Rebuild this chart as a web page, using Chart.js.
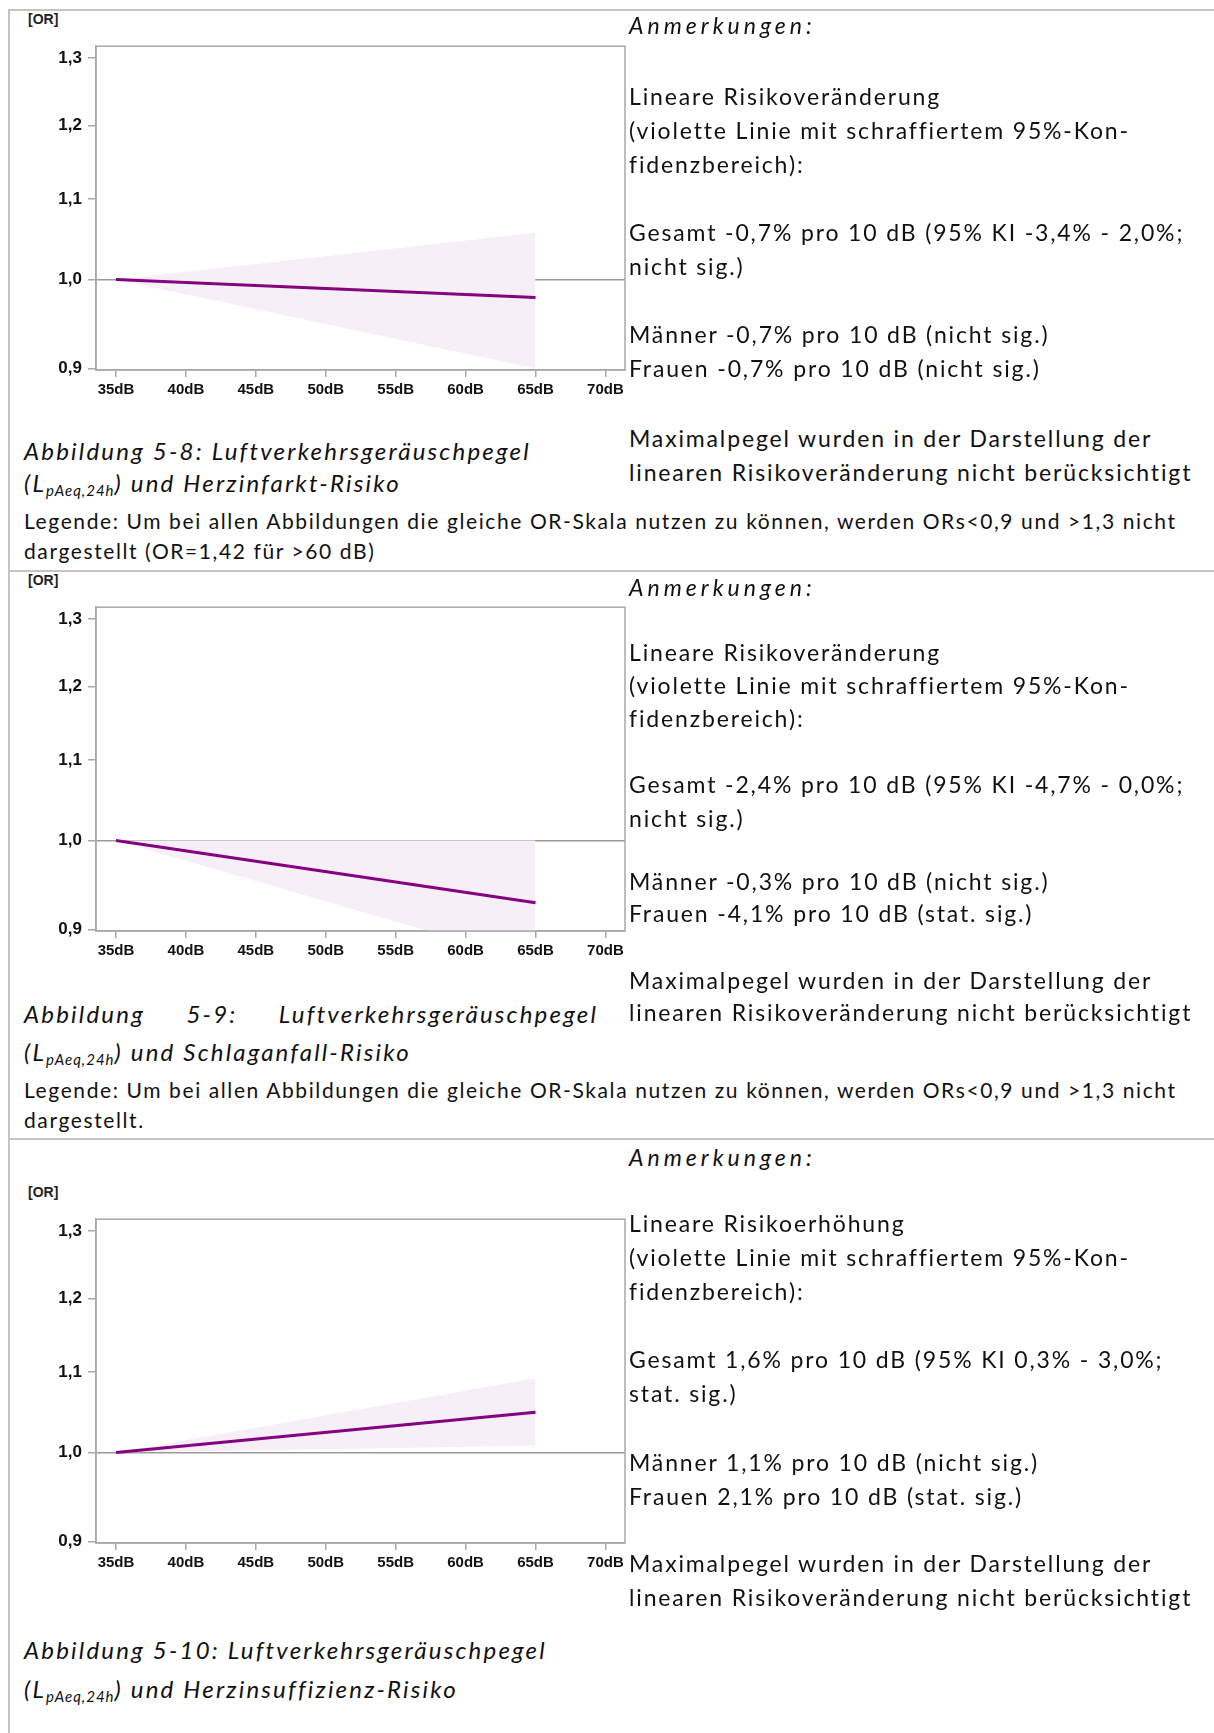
<!DOCTYPE html>
<html lang="de">
<head>
<meta charset="UTF-8">
<title>Luftverkehrsgeräuschpegel und Risiko</title>
<script src="https://cdn.jsdelivr.net/npm/chart.js@4.4.1/dist/chart.umd.min.js"></script>
<style>
    body {
        margin: 0;
        background: #fff;
        font-family: Lato, "Open Sans", sans-serif;
        color: #111;
    }
    .page {
        position: relative;
        width: 1214px;
        height: 1733px;
        overflow: hidden;
    }
    .vline {
        position: absolute;
        left: 8px;
        top: 10px;
        width: 2px;
        height: 1723px;
        background: #c4c4c4;
    }
    .hline {
        position: absolute;
        left: 8px;
        width: 1206px;
        height: 2px;
        background: #c4c4c4;
    }
    .or-label {
        position: absolute;
        left: 28px;
        font: bold 14px "Liberation Sans", Arial, sans-serif;
        color: #222;
    }
    canvas {
        position: absolute;
        left: 10px;
    }
    .note {
        position: absolute;
        left: 629px;
        width: 580px;
        font-size: 23px;
        line-height: 34px;
        letter-spacing: 1.85px;
        white-space: nowrap;
    }
    .note.it {
        font-style: italic;
        letter-spacing: 4px;
    }
    .caption {
        position: absolute;
        left: 24px;
        font-size: 24px;
        font-style: italic;
        letter-spacing: 2.2px;
        white-space: nowrap;
    }
    .caption sub {
        font-size: 15px;
        line-height: 0;
        letter-spacing: 1px;
        vertical-align: -4px;
    }
    .justify {
        width: 574px;
        text-align: justify;
        text-align-last: justify;
    }
    .legende {
        position: absolute;
        left: 24px;
        font-size: 21px;
        line-height: 30px;
        letter-spacing: 1.6px;
        white-space: nowrap;
    }
</style>
</head>
<body>
<div class="page">
    <div class="vline"></div>
    <div class="hline" style="top:9px"></div>
    <div class="hline" style="top:570px"></div>
    <div class="hline" style="top:1138px"></div>

    <!-- Abbildung 5-8 -->
    <div class="or-label" style="top:11px">[OR]</div>
    <canvas id="chart1" width="620" height="380" style="top:30px"></canvas>
    <div class="note it" style="top:8px">Anmerkungen:</div>
    <div class="note" style="top:79px">Lineare Risikoveränderung<br>(violette Linie mit schraffiertem 95%-Kon-<br>fidenzbereich):</div>
    <div class="note" style="top:215px">Gesamt -0,7% pro 10 dB (95% KI -3,4% - 2,0%;<br>nicht sig.)</div>
    <div class="note" style="top:317px">Männer -0,7% pro 10 dB (nicht sig.)<br>Frauen -0,7% pro 10 dB (nicht sig.)</div>
    <div class="note" style="top:421px">Maximalpegel wurden in der Darstellung der<br>linearen Risikoveränderung nicht berücksichtigt</div>
    <div class="caption" style="top:435px; line-height:32px">Abbildung 5-8: Luftverkehrsgeräuschpegel<br>(L<sub>pAeq,24h</sub>) und Herzinfarkt-Risiko</div>
    <div class="legende" style="top:506px">Legende: Um bei allen Abbildungen die gleiche OR-Skala nutzen zu können, werden ORs&lt;0,9 und &gt;1,3 nicht<br>dargestellt (OR=1,42 für &gt;60 dB)</div>

    <!-- Abbildung 5-9 -->
    <div class="or-label" style="top:572px">[OR]</div>
    <canvas id="chart2" width="620" height="380" style="top:591px"></canvas>
    <div class="note it" style="top:570px">Anmerkungen:</div>
    <div class="note" style="top:636px; line-height:33px">Lineare Risikoveränderung<br>(violette Linie mit schraffiertem 95%-Kon-<br>fidenzbereich):</div>
    <div class="note" style="top:767px">Gesamt -2,4% pro 10 dB (95% KI -4,7% - 0,0%;<br>nicht sig.)</div>
    <div class="note" style="top:865px; line-height:32px">Männer -0,3% pro 10 dB (nicht sig.)<br>Frauen -4,1% pro 10 dB (stat. sig.)</div>
    <div class="note" style="top:964px; line-height:32px">Maximalpegel wurden in der Darstellung der<br>linearen Risikoveränderung nicht berücksichtigt</div>
    <div class="caption justify" style="top:997px; line-height:34px">Abbildung 5-9: Luftverkehrsgeräuschpegel</div>
    <div class="caption" style="top:1035px; line-height:34px">(L<sub>pAeq,24h</sub>) und Schlaganfall-Risiko</div>
    <div class="legende" style="top:1075px">Legende: Um bei allen Abbildungen die gleiche OR-Skala nutzen zu können, werden ORs&lt;0,9 und &gt;1,3 nicht<br>dargestellt.</div>

    <!-- Abbildung 5-10 -->
    <div class="or-label" style="top:1184px">[OR]</div>
    <canvas id="chart3" width="620" height="380" style="top:1203px"></canvas>
    <div class="note it" style="top:1140px">Anmerkungen:</div>
    <div class="note" style="top:1206px">Lineare Risikoerhöhung<br>(violette Linie mit schraffiertem 95%-Kon-<br>fidenzbereich):</div>
    <div class="note" style="top:1342px">Gesamt 1,6% pro 10 dB (95% KI 0,3% - 3,0%;<br>stat. sig.)</div>
    <div class="note" style="top:1445px">Männer 1,1% pro 10 dB (nicht sig.)<br>Frauen 2,1% pro 10 dB (stat. sig.)</div>
    <div class="note" style="top:1546px">Maximalpegel wurden in der Darstellung der<br>linearen Risikoveränderung nicht berücksichtigt</div>
    <div class="caption" style="top:1635px">Abbildung 5-10: Luftverkehrsgeräuschpegel</div>
    <div class="caption" style="top:1674px">(L<sub>pAeq,24h</sub>) und Herzinsuffizienz-Risiko</div>
</div>

<script>
    // Achsen
    const dbTicks = [35, 40, 45, 50, 55, 60, 65, 70];
    const orTicks = [0.9, 1.0, 1.1, 1.2, 1.3];
    // Pegel (dB) fuer Anfang und Ende der Regressionslinie
    const lineDb = [35, 65];

    // Abb. 5-8 Herzinfarkt
    const herzinfarktOR = [1.0, 0.979];
    const herzinfarktOben = [1.0, 1.057];
    const herzinfarktUnten = [1.0, 0.900];

    // Abb. 5-9 Schlaganfall
    const schlaganfallOR = [1.0, 0.929];
    const schlaganfallOben = [1.0, 1.0];
    const schlaganfallUnten = [1.0, 0.866];

    // Abb. 5-10 Herzinsuffizienz
    const insuffizienzOR = [1.0, 1.049];
    const insuffizienzOben = [1.0, 1.092];
    const insuffizienzUnten = [1.0, 1.008];

    const violett = '#85007f';
    const schraffur = '#f7eff7';
    const grau = '#a8a8a8';

    function punkte(werte) {
        return lineDb.map((db, i) => ({x: db, y: werte[i]}));
    }

    // Rahmen um die Plotflaeche
    const rahmen = {
        id: 'rahmen',
        afterDraw(chart) {
            const a = chart.chartArea;
            const ctx = chart.ctx;
            ctx.save();
            ctx.strokeStyle = grau;
            ctx.lineWidth = 1.5;
            ctx.strokeRect(a.left, a.top, a.right - a.left, a.bottom - a.top);
            ctx.restore();
        }
    };

    function zeichne(id, orWerte, oben, unten) {
        return new Chart(document.getElementById(id), {
            type: 'line',
            data: {
                datasets: [
                    {
                        data: punkte(orWerte),
                        borderColor: violett,
                        borderWidth: 3,
                        pointRadius: 0,
                        fill: false
                    },
                    {
                        data: punkte(oben),
                        borderWidth: 0,
                        borderColor: 'rgba(0,0,0,0)',
                        backgroundColor: schraffur,
                        pointRadius: 0,
                        fill: '+1'
                    },
                    {
                        data: punkte(unten),
                        borderWidth: 0,
                        borderColor: 'rgba(0,0,0,0)',
                        pointRadius: 0,
                        fill: false
                    }
                ]
            },
            options: {
                responsive: false,
                animation: false,
                layout: {padding: {top: 10, right: 5, left: 0, bottom: 0}},
                plugins: {legend: {display: false}, tooltip: {enabled: false}},
                scales: {
                    x: {
                        type: 'linear',
                        min: 33.57,
                        max: 71.4,
                        afterBuildTicks: s => { s.ticks = dbTicks.map(v => ({value: v})); },
                        afterFit: s => { s.height = 40; },
                        ticks: {
                            callback: v => v + 'dB',
                            color: '#111',
                            padding: 4,
                            maxRotation: 0,
                            font: {family: 'Liberation Sans', size: 15, weight: 'bold'}
                        },
                        grid: {drawOnChartArea: false, tickLength: 7, tickColor: grau, lineWidth: 1.5},
                        border: {color: grau, width: 1.5}
                    },
                    y: {
                        type: 'logarithmic',
                        min: 0.8984,
                        max: 1.3183,
                        afterBuildTicks: s => { s.ticks = orTicks.map(v => ({value: v})); },
                        afterFit: s => { s.width = 86; },
                        ticks: {
                            callback: v => v.toFixed(1).replace('.', ','),
                            color: '#111',
                            padding: 6,
                            font: {family: 'Liberation Sans', size: 17, weight: 'bold'}
                        },
                        grid: {
                            color: c => (c.tick && Math.abs(c.tick.value - 1) < 1e-6) ? '#9a9a9a' : 'rgba(0,0,0,0)',
                            lineWidth: 1.5,
                            tickLength: 8,
                            tickColor: grau
                        },
                        border: {color: grau, width: 1.5}
                    }
                }
            },
            plugins: [rahmen]
        });
    }

    zeichne('chart1', herzinfarktOR, herzinfarktOben, herzinfarktUnten);
    zeichne('chart2', schlaganfallOR, schlaganfallOben, schlaganfallUnten);
    zeichne('chart3', insuffizienzOR, insuffizienzOben, insuffizienzUnten);
</script>
</body>
</html>
